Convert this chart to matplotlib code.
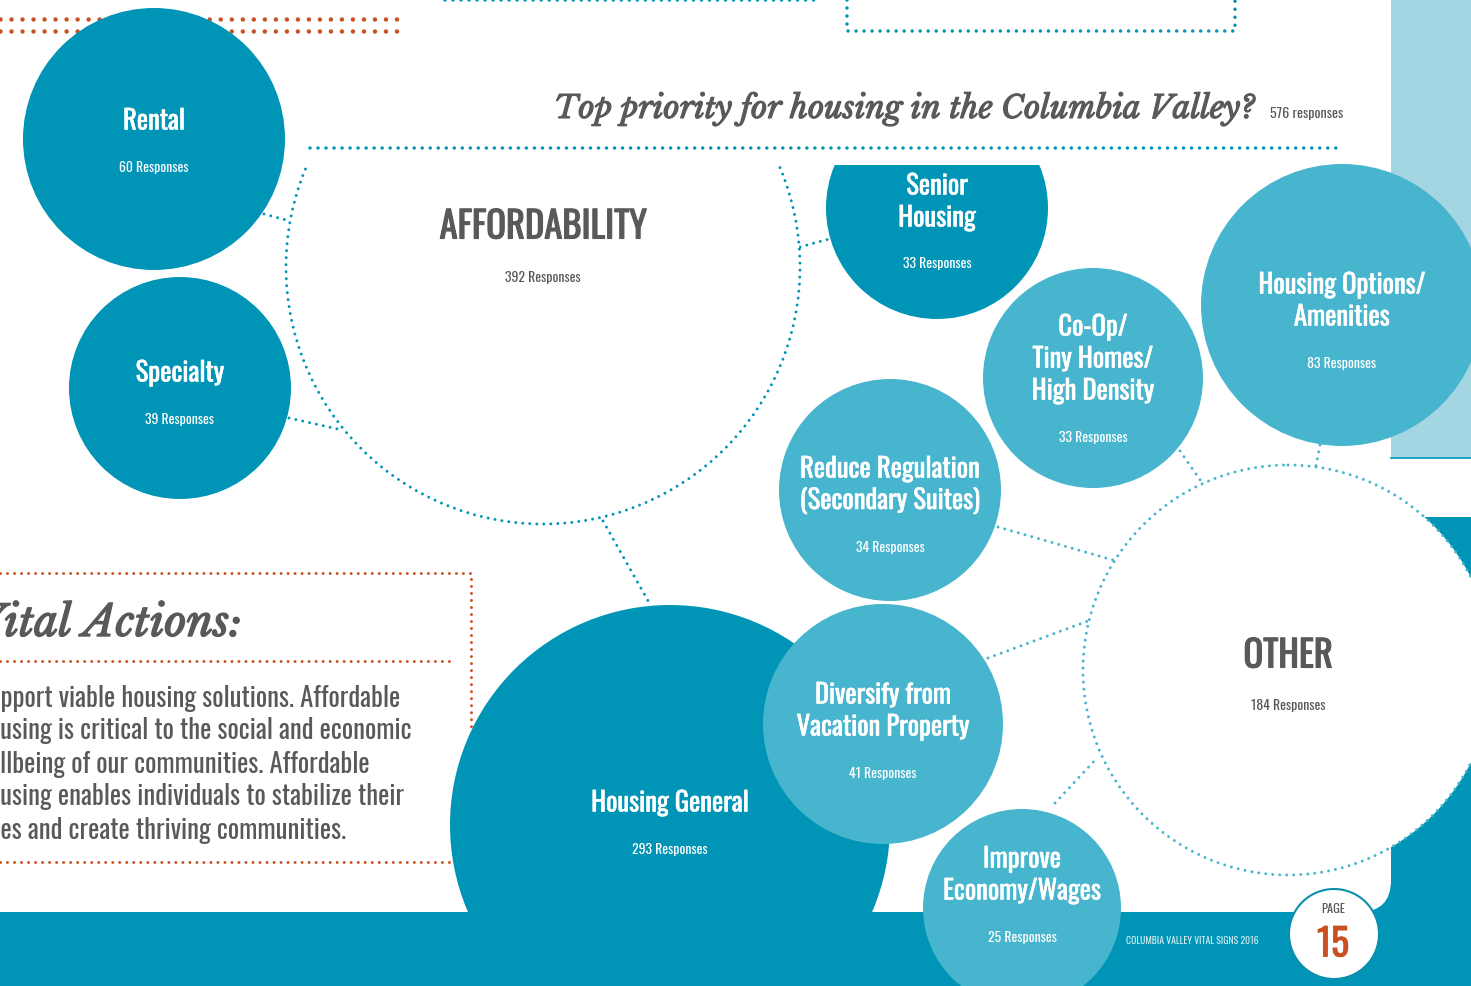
import matplotlib
matplotlib.use('Agg')
import matplotlib.pyplot as plt
import matplotlib.patheffects as pe
from matplotlib import font_manager
from matplotlib.patches import Circle, Rectangle, FancyBboxPatch

# ---- data ----
labels = ['Rental', 'Specialty', 'AFFORDABILITY', 'Senior\nHousing',
          'Co-Op/\nTiny Homes/\nHigh Density', 'Housing Options/\nAmenities',
          'Reduce Regulation\n(Secondary Suites)', 'Diversify from\nVacation Property',
          'Housing General', 'Improve\nEconomy/Wages', 'OTHER']
responses = [60, 39, 392, 33, 33, 83, 34, 41, 293, 25, 184]
total_responses = 576
title = 'Top priority for housing in the Columbia Valley?'
vital_title = 'Vital Actions:'
vital_lines = ['Support viable housing solutions. Affordable',
               'housing is critical to the social and economic',
               'wellbeing of our communities. Affordable',
               'housing enables individuals to stabilize their',
               'lives and create thriving communities.']
vital_hidden = [2, 2, 2, 2, 3]   # characters cut off by the page edge
footer = 'COLUMBIA VALLEY VITAL SIGNS 2016'
page_no = '15'

# ---- layout (pixels, y down) ----
cx = [154, 180, 543, 937, 1093, 1342, 890, 883, 670, 1022, 1288]
cy = [139, 388, 267, 208, 378, 305, 490, 724, 825, 908, 670]
rad = [131, 111, 257, 111, 110, 141, 111, 120, 220, 99, 205]
label_y = [121, 373, 227, 186, 327, 285, 469, 695, 803, 859, 656]
resp_y = [168, 420, 277, 264, 438, 364, 547, 774, 850, 938, 706]
kind = ['dark', 'dark', 'hub', 'dark', 'light', 'light', 'light', 'light', 'dark', 'light', 'hub']
layer = [3, 3, 3, 3, 3, 3, 3, 3.2, 3.1, 3.3, 3]
clipped = [2, 3]
aff_links = [((264, 290), (214, 221)), ((289, 342), (418, 430)),
             ((800, 829), (247, 239)), ((603, 651), (521, 606))]
other_links = [((998, 1113), (527, 560)), ((988, 1088), (658, 621)),
               ((1180, 1203), (451, 484)), ((1320, 1316), (445, 466)),
               ((1055, 1097), (803, 758))]

DARK = '#0095b6'
LIGHT = '#47b5cd'
PALE = '#a4d5e3'
ORANGE = '#c8511f'
GRAY = '#58595b'

plt.rcParams['lines.scale_dashes'] = False
names = {f.name for f in font_manager.fontManager.ttflist}


def pick(cands, default):
    return next((c for c in cands if c in names), default)


NARROW = pick(['Oswald', 'Pathway Gothic One', 'Fjalla One', 'Liberation Sans Narrow'], 'DejaVu Sans')
SERIF = pick(['Libre Baskerville', 'Playfair Display', 'Liberation Serif'], 'DejaVu Serif')
nk = dict(family=NARROW, fontstretch='condensed')
sk = dict(family=SERIF, style='italic', weight='bold')


def heavy(color, w=1.0):
    return [pe.withStroke(linewidth=w, foreground=color)]


fig = plt.figure(figsize=(14.71, 9.86), dpi=100)
ax = fig.add_axes([0, 0, 1, 1])
ax.set_xlim(0, 1471)
ax.set_ylim(986, 0)
ax.axis('off')
rend = fig.canvas.get_renderer()


def text_w(s, size, **kw):
    t = ax.text(0, 0, s, fontsize=size, **kw)
    w = t.get_window_extent(rend).width
    t.remove()
    return w


def size_for(s, width, **kw):
    return 20 * width / text_w(s, 20, **kw)


def dotted(xs, ys, color, d=3, gap=7, z=2):
    ax.plot(xs, ys, color=color, lw=d * 0.72, ls=(0, (0.01, gap * 0.72)),
            dash_capstyle='round', zorder=z)


# background panels
ax.add_patch(Rectangle((1391, 0), 80, 458, fc=PALE, ec='none', zorder=0.5))
ax.plot([1391, 1471], [458, 458], color=DARK, lw=1.2, zorder=0.6)
ax.add_patch(Rectangle((1300, 517), 171, 469, fc=DARK, ec='none', zorder=0.4))
ax.add_patch(Rectangle((0, 912), 1471, 74, fc=DARK, ec='none', zorder=0.4))
ax.add_patch(FancyBboxPatch((-100, 470), 1491, 442, boxstyle='round,pad=0,rounding_size=32',
                            fc='white', ec='none', zorder=0.45))

# decorative dotted rules
dotted([0, 397], [19, 19], ORANGE, 4.5, 11)
dotted([0, 397], [31, 31], ORANGE, 4.5, 11)
dotted([445, 815], [0, 0], DARK, 3.5, 8)
dotted([847, 847, 1235, 1235], [0, 31, 31, 0], DARK, 3.5, 8)
dotted([310, 1343], [148, 148], DARK, 3.5, 8)
dotted([0, 471, 471], [573, 573, 862], ORANGE, 3, 7)
dotted([0, 471], [862, 862], ORANGE, 3, 7)
dotted([0, 451], [661, 661], ORANGE, 3, 7)

for xs, ys in aff_links:
    dotted(xs, ys, DARK, 3, 7)
for xs, ys in other_links:
    dotted(xs, ys, LIGHT, 3, 7)

# bubbles
clip = Rectangle((0, 165), 1471, 821, transform=ax.transData)
for i in range(len(labels)):
    if kind[i] == 'hub':
        col = DARK if i == 2 else LIGHT
        c = Circle((cx[i], cy[i]), rad[i], fc='white', ec=col, lw=3 * 0.72,
                   ls=(0, (0.01, 7 * 0.72)), capstyle='round', zorder=layer[i])
    else:
        c = Circle((cx[i], cy[i]), rad[i], fc=DARK if kind[i] == 'dark' else LIGHT,
                   ec='none', zorder=layer[i])
    ax.add_patch(c)
    if i in clipped:
        c.set_clip_path(clip)

lab_size = size_for('Housing General', 158, weight='bold', **nk)
resp_size = size_for('392 Responses', 76, **nk)
hub_size = size_for('AFFORDABILITY', 207, weight='bold', **nk)
for i, lab in enumerate(labels):
    hub = kind[i] == 'hub'
    col = GRAY if hub else 'white'
    for j, line in enumerate(lab.split('\n')):
        ax.text(cx[i], label_y[i] + 32 * j, line, ha='center', va='center', color=col,
                fontsize=hub_size if hub else lab_size, weight='bold', zorder=5,
                path_effects=heavy(col, 0.8 if hub else 0.4), **nk)
    ax.text(cx[i], resp_y[i], f'{responses[i]} Responses', ha='center', va='center',
            color=col, fontsize=resp_size, zorder=5, **nk)

# title
ax.text(1255, 118, title, ha='right', va='baseline', color=GRAY,
        fontsize=size_for(title, 700, **sk), zorder=5, path_effects=heavy(GRAY, 0.8), **sk)
ax.text(1270, 113, f'{total_responses} responses', ha='left', va='center', color=GRAY,
        fontsize=size_for(f'{total_responses} responses', 73, **nk), zorder=5, **nk)

# vital actions box
va_size = size_for(vital_title[1:], 238, **sk)
ax.text(242, 636, vital_title, ha='right', va='baseline', color=GRAY,
        fontsize=va_size, zorder=5, path_effects=heavy(GRAY, 1.0), **sk)
body_size = size_for(vital_lines[1][vital_hidden[1]:], 413, **nk)
for k, line in enumerate(vital_lines):
    off = text_w(line, body_size, **nk) - text_w(line[vital_hidden[k]:], body_size, **nk)
    ax.text(-off, 698 + 33 * k, line, ha='left', va='center', color=GRAY,
            fontsize=body_size, zorder=2, **nk)

# footer and page badge
ax.text(1192, 941, footer, ha='center', va='center', color='#d3ecf3',
        fontsize=size_for(footer, 133, **nk), zorder=5, **nk)
ax.add_patch(Circle((1334, 934), 45, fc='white', ec='#0a8fae', lw=1.5, zorder=6))
ax.text(1333, 909, 'PAGE', ha='center', va='center', color=GRAY,
        fontsize=size_for('PAGE', 24, **nk), zorder=7, **nk)
ax.text(1333, 945, page_no, ha='center', va='center', color=ORANGE,
        fontsize=size_for(page_no, 32, weight='bold', **nk), weight='bold', zorder=7,
        path_effects=heavy(ORANGE, 0.6), **nk)

fig.savefig('out.png', dpi=100)
